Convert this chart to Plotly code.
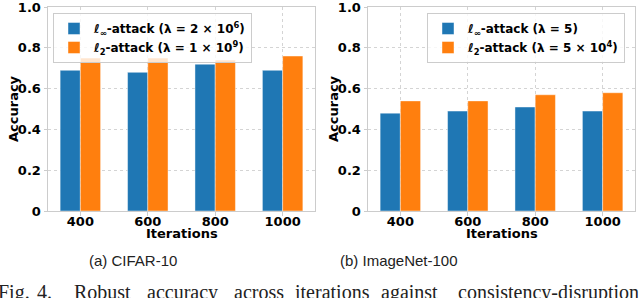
import plotly.graph_objects as go

# ---- data ----
iterations = ["400", "600", "800", "1000"]
cifar_linf = [0.69, 0.68, 0.72, 0.69]
cifar_l2 = [0.75, 0.75, 0.74, 0.76]
imnet_linf = [0.48, 0.49, 0.51, 0.49]
imnet_l2 = [0.54, 0.54, 0.57, 0.58]
y_tickvals = [0, 0.2, 0.4, 0.6, 0.8, 1.0]
y_ticktext = ["0", "0.2", "0.4", "0.6", "0.8", "1.0"]

cifar_names = ["<i>ℓ</i><sub>∞</sub>-attack (λ = 2 × 10<sup>6</sup>)",
               "<i>ℓ</i><sub>2</sub>-attack (λ = 1 × 10<sup>9</sup>)"]
imnet_names = ["<i>ℓ</i><sub>∞</sub>-attack (λ = 5)",
               "<i>ℓ</i><sub>2</sub>-attack (λ = 5 × 10<sup>4</sup>)"]

BLUE = "#1f77b4"
ORANGE = "#ff7f0e"
W, H = 640, 298

fig = go.Figure()
edge = dict(color="rgba(255,255,255,0.55)", width=0.8)
fig.add_trace(go.Bar(x=iterations, y=cifar_linf, name=cifar_names[0], marker=dict(color=BLUE, line=edge),
                     xaxis="x", yaxis="y", legend="legend"))
fig.add_trace(go.Bar(x=iterations, y=cifar_l2, name=cifar_names[1], marker=dict(color=ORANGE, line=edge),
                     xaxis="x", yaxis="y", legend="legend"))
fig.add_trace(go.Bar(x=iterations, y=imnet_linf, name=imnet_names[0], marker=dict(color=BLUE, line=edge),
                     xaxis="x2", yaxis="y2", legend="legend2"))
fig.add_trace(go.Bar(x=iterations, y=imnet_l2, name=imnet_names[1], marker=dict(color=ORANGE, line=edge),
                     xaxis="x2", yaxis="y2", legend="legend2"))

tickfont = dict(family="DejaVu Sans", size=13, color="black", weight="bold")
grid = dict(showgrid=True, gridcolor="#d4d4d4", griddash="dot", gridwidth=1,
            showline=True, linecolor="#cccccc", linewidth=1, mirror=True,
            ticks="outside", ticklen=3.5, tickcolor="#cccccc", tickwidth=1,
            tickfont=tickfont, zeroline=False, fixedrange=True, automargin=False,
            ticklabeloverflow="allow")

def px_x(p):
    return p / W

def px_y(p):
    return 1 - p / H

xd1 = [px_x(48), px_x(315)]
xd2 = [px_x(368), px_x(635)]
yd = [px_y(211), px_y(7)]

legfont = dict(family="DejaVu Sans", size=12, color="black", weight="bold")
fig.update_layout(
    width=W, height=H,
    margin=dict(l=0, r=0, t=0, b=0, autoexpand=False),
    paper_bgcolor="white", plot_bgcolor="white",
    barmode="group", bargap=0.4, bargroupgap=0,
    xaxis=dict(domain=xd1, anchor="y", type="category", range=[-0.48, 3.48], ticklabelstandoff=-5, **grid),
    yaxis=dict(domain=yd, anchor="x", range=[0, 1.0005], tickvals=y_tickvals, ticktext=y_ticktext, **grid),
    xaxis2=dict(domain=xd2, anchor="y2", type="category", range=[-0.48, 3.48], ticklabelstandoff=-5, **grid),
    yaxis2=dict(domain=yd, anchor="x2", range=[0, 1.0005], tickvals=y_tickvals, ticktext=y_ticktext, **grid),
    legend=dict(x=px_x(53), y=px_y(13), xanchor="left", yanchor="top",
                bgcolor="rgba(255,255,255,0.8)", bordercolor="#cccccc", borderwidth=1,
                font=legfont, tracegroupgap=0),
    legend2=dict(x=px_x(427), y=px_y(13), xanchor="left", yanchor="top",
                 bgcolor="rgba(255,255,255,0.8)", bordercolor="#cccccc", borderwidth=1,
                 font=legfont, tracegroupgap=0),
    showlegend=True,
)

annos = []
bold13 = dict(family="DejaVu Sans", size=13, color="black", weight="bold")
for cx in [181.5, 501.5]:
    annos.append(dict(text="Iterations", x=px_x(cx), y=px_y(233), xref="paper", yref="paper",
                      xanchor="center", yanchor="middle", showarrow=False, font=bold13))
for cx in [14, 334]:
    annos.append(dict(text="Accuracy", x=px_x(cx), y=px_y(109), xref="paper", yref="paper",
                      xanchor="center", yanchor="middle", showarrow=False, font=bold13, textangle=-90))
sub = dict(family="Liberation Sans", size=15, color="#222222")
annos.append(dict(text="(a) CIFAR-10", x=px_x(133), y=px_y(260), xref="paper", yref="paper",
                  xanchor="center", yanchor="middle", showarrow=False, font=sub))
annos.append(dict(text="(b) ImageNet-100", x=px_x(399), y=px_y(260), xref="paper", yref="paper",
                  xanchor="center", yanchor="middle", showarrow=False, font=sub))

caption_words = ["Fig.", "4.", "Robust", "accuracy", "across", "iterations", "against", "consistency-disruption"]
caption_cx = [14, 44, 102, 182, 259, 332.5, 409, 548]
cap = dict(family="Liberation Serif", size=20, color="#222222")
for wtxt, wx in zip(caption_words, caption_cx):
    annos.append(dict(text=wtxt, x=px_x(wx), y=px_y(292), xref="paper", yref="paper",
                      xanchor="center", yanchor="middle", showarrow=False, font=cap))
fig.update_layout(annotations=annos)

fig.write_html("out.html", config={"displayModeBar": False},
               post_script="document.body.style.margin='0px';document.body.style.overflow='hidden';")
